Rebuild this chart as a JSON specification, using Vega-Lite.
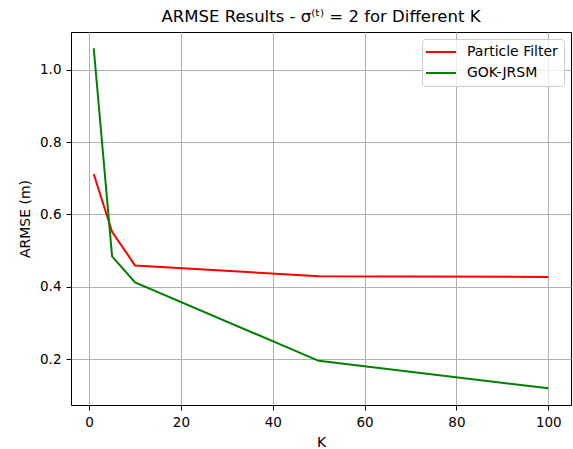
{
  "$schema": "https://vega.github.io/schema/vega-lite/v6.json",
  "width": 500,
  "height": 373,
  "autosize": "none",
  "padding": {"left": 71, "top": 32, "right": 2, "bottom": 44},
  "background": "white",
  "config": {
    "font": "DejaVu Sans",
    "view": {"stroke": "#000000", "strokeWidth": 1},
    "axis": {
      "gridColor": "#b0b0b0",
      "gridWidth": 1,
      "gridOpacity": 1,
      "domain": false,
      "tickColor": "#000000",
      "tickSize": 5,
      "tickWidth": 1,
      "labelFont": "DejaVu Sans",
      "labelFontSize": 13.5,
      "labelColor": "#000000",
      "titleFont": "DejaVu Sans",
      "titleFontSize": 14,
      "titleFontWeight": "normal",
      "titleColor": "#000000"
    }
  },
  "title": {
    "text": "ARMSE Results - σ⁽ᵗ⁾ = 2 for Different K",
    "font": "DejaVu Sans",
    "fontSize": 16.5,
    "fontWeight": "normal",
    "color": "#000000",
    "offset": 7
  },
  "data": {
    "values": [
      {"K": 1, "ARMSE": 0.712, "method": "Particle Filter"},
      {"K": 5, "ARMSE": 0.552, "method": "Particle Filter"},
      {"K": 10, "ARMSE": 0.459, "method": "Particle Filter"},
      {"K": 50, "ARMSE": 0.429, "method": "Particle Filter"},
      {"K": 100, "ARMSE": 0.427, "method": "Particle Filter"},
      {"K": 1, "ARMSE": 1.060, "method": "GOK-JRSM"},
      {"K": 5, "ARMSE": 0.484, "method": "GOK-JRSM"},
      {"K": 10, "ARMSE": 0.412, "method": "GOK-JRSM"},
      {"K": 50, "ARMSE": 0.195, "method": "GOK-JRSM"},
      {"K": 100, "ARMSE": 0.119, "method": "GOK-JRSM"}
    ]
  },
  "mark": {"type": "line", "strokeWidth": 2, "clip": true},
  "encoding": {
    "x": {
      "field": "K",
      "type": "quantitative",
      "scale": {"domain": [-3.95, 104.95], "nice": false, "zero": false},
      "axis": {"values": [0, 20, 40, 60, 80, 100], "title": "K", "titlePadding": 7, "labelPadding": 5}
    },
    "y": {
      "field": "ARMSE",
      "type": "quantitative",
      "scale": {"domain": [0.0727, 1.105], "nice": false, "zero": false},
      "axis": {"values": [0.2, 0.4, 0.6, 0.8, 1.0], "format": ".1f", "title": "ARMSE (m)", "titlePadding": 7, "labelPadding": 5}
    },
    "color": {
      "field": "method",
      "type": "nominal",
      "sort": ["Particle Filter", "GOK-JRSM"],
      "scale": {"domain": ["Particle Filter", "GOK-JRSM"], "range": ["#ff0000", "#008000"]},
      "legend": {
        "title": null,
        "orient": "top-right",
        "offset": 7,
        "symbolType": "M-3,0H3",
        "symbolSize": 100,
        "symbolOffset": 6,
        "symbolStrokeWidth": 2,
        "labelFont": "DejaVu Sans",
        "labelFontSize": 14,
        "labelColor": "#000000",
        "labelOffset": 19,
        "rowPadding": 7,
        "padding": 6,
        "strokeColor": "#cccccc",
        "fillColor": "rgba(255,255,255,0.8)",
        "cornerRadius": 3
      }
    }
  }
}
